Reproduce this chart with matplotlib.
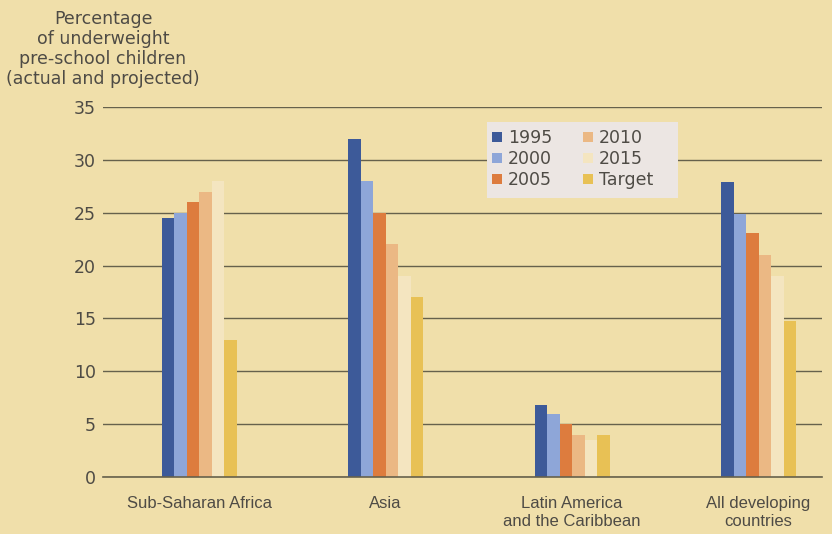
import matplotlib
matplotlib.use("Agg")
import matplotlib.pyplot as plt
from matplotlib.patches import Rectangle
import numpy as np

regions = ["Sub-Saharan Africa", "Asia", "Latin America\nand the Caribbean",
           "All developing\ncountries"]
series = ["1995", "2000", "2005", "2010", "2015", "Target"]
v1995 = [24.5, 32.0, 6.8, 27.9]
v2000 = [25.0, 28.0, 6.0, 24.9]
v2005 = [26.0, 25.0, 5.0, 23.1]
v2010 = [27.0, 22.0, 4.0, 21.0]
v2015 = [28.0, 19.0, 3.5, 19.0]
vtarget = [13.0, 17.0, 4.0, 14.8]

values = [v1995, v2000, v2005, v2010, v2015, vtarget]
colors = ["#3d5a99", "#8ea6d8", "#dd7c3e", "#ebb884", "#f4e5c0", "#e8c155"]

bg = "#f0dfaa"
txt = "#4e4b45"
grid_c = "#66614c"

plt.rcParams['font.family'] = ['DejaVu Sans']

fig = plt.figure(figsize=(8.32, 5.34), dpi=100, facecolor=bg)
ax = fig.add_axes([103/832, 1-477/534, (822-103)/832, (477-107)/534])
ax.set_facecolor(bg)

x = np.arange(len(regions))
W = 0.067
for i, (name, vals, c) in enumerate(zip(series, values, colors)):
    ax.bar(x + (i - 3) * W, vals, width=W, align='edge', color=c,
           edgecolor='none', zorder=3, label=name)

ax.set_xlim(-0.515, 3.34)
ax.set_ylim(0, 35)
ax.set_yticks(np.arange(0, 36, 5))
ax.yaxis.grid(True, color=grid_c, linewidth=1.0, zorder=1)
ax.set_axisbelow(True)
ax.axhline(0, color=grid_c, linewidth=1.2, zorder=4, clip_on=False)
for s in ax.spines.values():
    s.set_visible(False)

ax.set_xticks(x)
ax.set_xticklabels(regions, fontsize=12, color=txt, linespacing=1.2,
                   family=['Liberation Sans', 'DejaVu Sans'])
ax.tick_params(axis='x', length=0, pad=14)
ax.tick_params(axis='y', length=0, pad=5, labelsize=12.5, labelcolor=txt)

fig.text(103/832, 1-10/534,
         "Percentage\nof underweight\npre-school children\n(actual and projected)",
         ha='center', va='top', fontsize=12.5, color=txt, linespacing=1.15)

# legend panel
ax.add_patch(Rectangle((487/832, 1-198/534), (678-487)/832, 76/534,
                       transform=fig.transFigure, facecolor="#ece6e3",
                       edgecolor='none', zorder=5, clip_on=False))
leg = ax.legend(loc='upper left', bbox_to_anchor=(492/832, 1-129/534),
                bbox_transform=fig.transFigure, ncol=2, fontsize=12.5,
                frameon=False, handlelength=0.55, handleheight=0.55,
                handletextpad=0.35, columnspacing=1.8, labelspacing=0.17,
                borderpad=0, borderaxespad=0)
leg.set_zorder(6)
for t in leg.get_texts():
    t.set_color(txt)

fig.savefig("out.png", dpi=100, facecolor=bg)
